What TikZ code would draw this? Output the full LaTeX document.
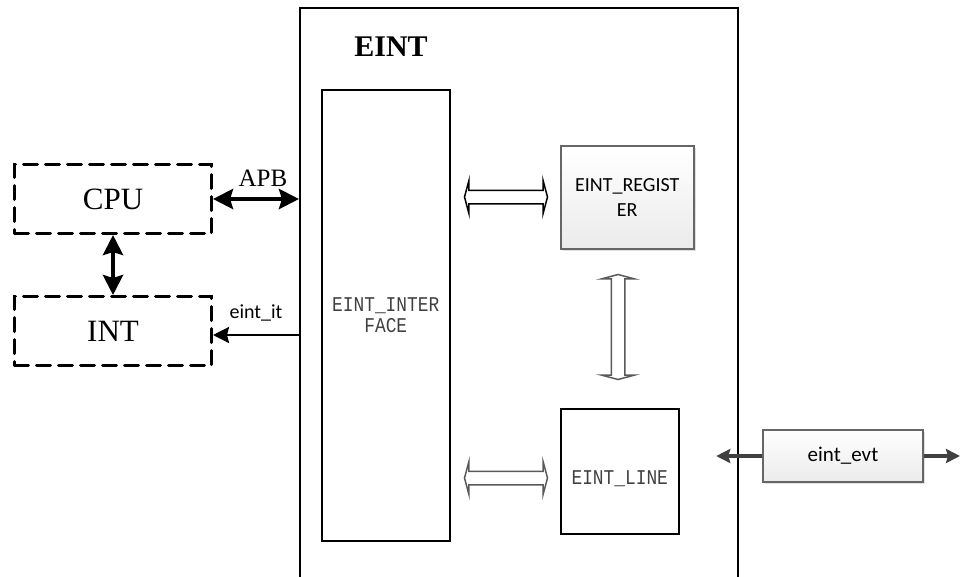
\documentclass[tikz,border=0pt]{standalone}
\usepackage{fontspec}
\setmainfont{Liberation Serif}
\newfontfamily\calibri{Carlito}
\newfontfamily\simsun[FakeStretch=0.85]{Liberation Mono}
\usetikzlibrary{shapes.arrows, arrows.meta, positioning, shadows}
\definecolor{evtgray}{HTML}{404040}

\begin{document}
\begin{tikzpicture}[x=1pt, y=-1pt,
                dashbox/.style={rectangle, draw, dash pattern=on 14pt off 8pt, line width=3pt, line cap=round, minimum width=197pt, minimum height=69pt, font=\fontsize{31}{36}\selectfont},
                block/.style={rectangle, draw, line width=1.5pt, align=center, text=black!75, font=\simsun\fontsize{21}{21}\selectfont},
                shadebox/.style={rectangle, draw=black!60, line width=1.5pt, top color=white, bottom color=black!8, drop shadow={shadow xshift=2pt, shadow yshift=-2pt, fill=black!25}, align=center, font=\calibri\fontsize{20}{25}\selectfont},
                hollow/.style={double arrow, draw, fill=white, line width=1.5pt, inner xsep=0pt, inner ysep=6pt, double arrow head extend=10pt, double arrow tip angle=150, minimum height=83pt},
                bigarrow/.style={{Stealth[length=20pt, width=20pt, inset=3pt]}-{Stealth[length=20pt, width=20pt, inset=3pt]}, line width=4.5pt},
                itarrow/.style={-{Stealth[length=16pt, width=16pt, inset=2pt]}, line width=2.5pt},
                evtarrow/.style={-{Stealth[length=14pt, width=14pt, inset=2pt]}, line width=4.5pt, draw=evtgray}]

            \useasboundingbox (0,0) rectangle (960,576);
            \clip (0,0) rectangle (960,576);

            % EINT block
            \node[draw, line width=2pt, minimum width=438pt, minimum height=620pt, anchor=north west] (eint) at (299,7) {};
            \node[font=\bfseries\fontsize{30}{36}\selectfont] (title) at (391,47) {EINT};

            \node[block, minimum width=128pt, minimum height=451pt, anchor=north west] (iface) at (321,89) {EINT\_INTER\\FACE};
            \node[shadebox, minimum width=133pt, minimum height=103pt, anchor=north west] (reg) at (560,145) {EINT\_REGIST\\ER};
            \node[block, minimum width=118pt, minimum height=125pt, anchor=north west] (line) at (560,408) {\raisebox{-13.5pt}[0pt][0pt]{EINT\_LINE}};

            \node[hollow] (busup) at (506,197) {};
            \node[hollow, draw=black!65, minimum height=105pt, rotate=90] (busv) at (618,327) {};
            \node[hollow, draw=black!65] (buslow) at (506,478) {};

            % outside
            \node[dashbox, anchor=north west] (cpu) at (13,163) {CPU};
            \node[dashbox, below=60pt of cpu] (int) {INT};

            \node[shadebox, minimum width=160pt, minimum height=52pt, font=\calibri\fontsize{21}{25}\selectfont] (evt) at (843,456) {eint\_evt};
            \coordinate[left=46pt of evt.west] (evtl);
            \coordinate (evtr) at (960,456);
            \coordinate (itpt) at ([yshift=-4pt]int.east);

            \draw[bigarrow] (cpu.east) -- (cpu.east -| eint.west) node[pos=0.58, above=7pt, font=\fontsize{25}{30}\selectfont] {APB};
            \draw[bigarrow] (cpu.south) -- (int.north);
            \draw[itarrow] (itpt -| eint.west) -- (itpt) node[midway, above=9pt, font=\calibri\fontsize{20}{24}\selectfont] {eint\_it};
            \draw[evtarrow] (evt.west) -- (evtl);
            \draw[evtarrow] (evt.east) -- (evtr);

        \end{tikzpicture}
\end{document}
